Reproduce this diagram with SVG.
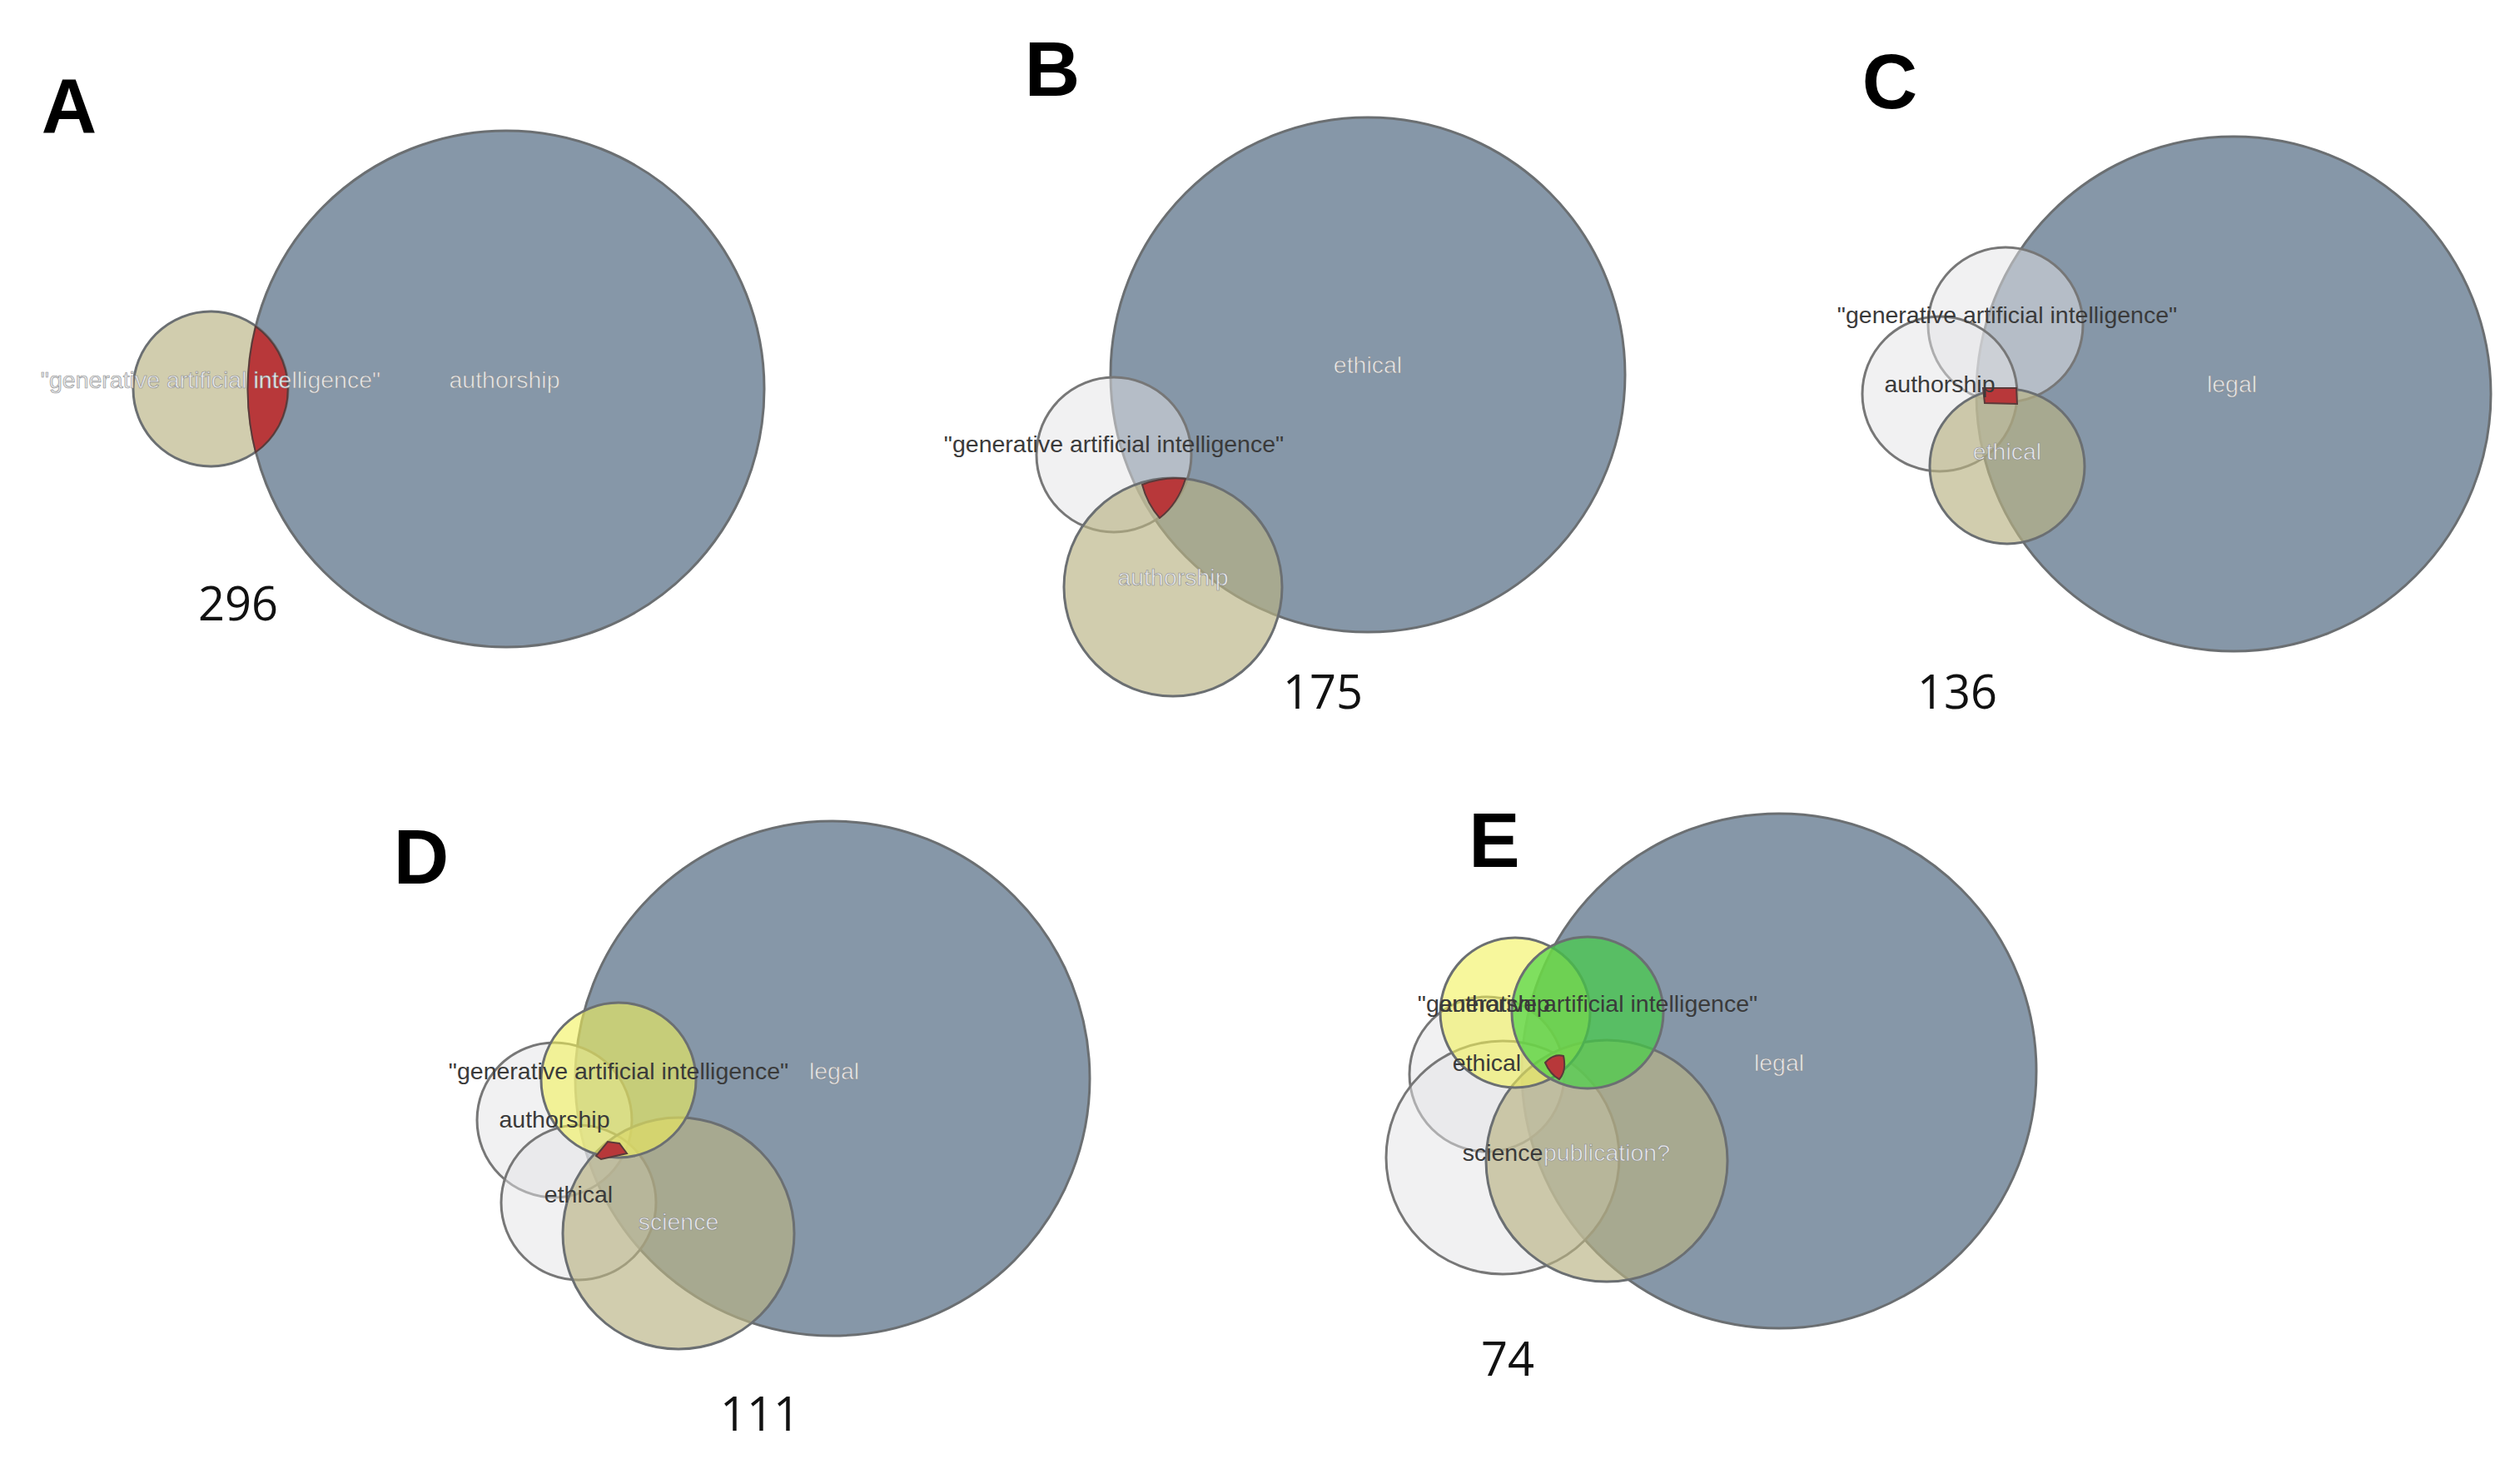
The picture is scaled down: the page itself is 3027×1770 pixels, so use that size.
<svg xmlns="http://www.w3.org/2000/svg" width="3027" height="1770" viewBox="0 0 3027 1770">
<style>
.big{fill:#8697a8;stroke:#6b6f72;stroke-width:3}
.bei{fill:#b9b283;fill-opacity:.65;stroke:#6b6f72;stroke-width:3}
.wht{fill:#e4e4e6;fill-opacity:.5;stroke:#777;stroke-width:3}
.yel{fill:#f2f25a;fill-opacity:.6;stroke:#6b6f72;stroke-width:3}
.grn{fill:#3fd23f;fill-opacity:.65;stroke:#6b6f72;stroke-width:3}
.red{fill:#b8383a;stroke:#5a3a3a;stroke-width:2}
.lt{font-family:"Liberation Sans",Arial,sans-serif;font-size:28.5px;fill:#e6e8ea;stroke:#8a8a8a;stroke-width:.6;text-anchor:middle;dominant-baseline:middle}
.dk{font-family:"Liberation Sans",Arial,sans-serif;font-size:28.5px;fill:#3a3a3a;text-anchor:middle;dominant-baseline:middle}
.pl{font-family:"Liberation Sans",Arial,sans-serif;font-size:92px;font-weight:bold;fill:#000;text-anchor:middle;dominant-baseline:middle}
.num{font-family:"Open Sans","Liberation Sans",sans-serif;font-size:56px;fill:#111;text-anchor:middle;dominant-baseline:middle}
</style>
<g id="panelA">
<circle class="big" cx="608" cy="467" r="310"/>
<circle class="bei" cx="253" cy="467" r="93"/>
<path class="red" d="M307,392 A93,93 0 0 1 307,543 A310,310 0 0 1 307,392 Z"/>
<text class="lt" x="253" y="458">"generative artificial intelligence"</text>
<text class="lt" x="606" y="458">authorship</text>
<text class="pl" x="83" y="135">A</text>
<text class="num" x="286" y="730">296</text>
</g>
<g id="panelB">
<circle class="big" cx="1643" cy="450" r="309"/>
<circle class="wht" cx="1338" cy="546" r="93"/>
<circle class="bei" cx="1409" cy="705" r="131"/>
<path class="red" d="M1372,582 Q1398,572 1424,575 Q1415,605 1393,622 Q1378,605 1372,582 Z"/>
<text class="lt" x="1643" y="440">ethical</text>
<text class="dk" x="1338" y="535">"generative artificial intelligence"</text>
<text class="lt" x="1409" y="695">authorship</text>
<text class="pl" x="1264" y="91">B</text>
<text class="num" x="1589" y="836">175</text>
</g>
<g id="panelC">
<circle class="big" cx="2683" cy="473" r="309"/>
<circle class="wht" cx="2409" cy="390" r="93"/>
<circle class="wht" cx="2330" cy="473" r="93"/>
<circle class="bei" cx="2411" cy="560" r="93"/>
<path class="red" d="M2382,466 L2422,466 L2423,485 L2384,484 Z"/>
<text class="dk" x="2411" y="380">"generative artificial intelligence"</text>
<text class="dk" x="2330" y="463">authorship</text>
<text class="lt" x="2411" y="544">ethical</text>
<text class="lt" x="2681" y="463">legal</text>
<text class="pl" x="2270" y="106">C</text>
<text class="num" x="2351" y="836">136</text>
</g>
<g id="panelD">
<circle class="big" cx="1000" cy="1295" r="309"/>
<circle class="wht" cx="666" cy="1345" r="93"/>
<circle class="wht" cx="695" cy="1444" r="93"/>
<circle class="bei" cx="815" cy="1481" r="139"/>
<circle class="yel" cx="743" cy="1297" r="93"/>
<path class="red" d="M716,1388 L730,1371 L744,1373 L753,1385 L722,1392 Z"/>
<text class="dk" x="743" y="1288">"generative artificial intelligence"</text>
<text class="lt" x="1002" y="1288">legal</text>
<text class="dk" x="666" y="1346">authorship</text>
<text class="dk" x="695" y="1436">ethical</text>
<text class="lt" x="815" y="1469">science</text>
<text class="pl" x="506" y="1037">D</text>
<text class="num" x="913" y="1703">111</text>
</g>
<g id="panelE">
<circle class="big" cx="2137" cy="1286" r="309"/>
<circle class="wht" cx="1786" cy="1290" r="93"/>
<circle class="wht" cx="1805" cy="1390" r="140"/>
<circle class="bei" cx="1930" cy="1394" r="145"/>
<circle class="yel" cx="1820" cy="1216" r="90"/>
<circle class="grn" cx="1907" cy="1216" r="91"/>
<path class="red" d="M1856,1276 Q1866,1265 1878,1268 Q1882,1286 1873,1296 Q1862,1290 1856,1276 Z"/>
<text class="dk" x="1907" y="1207">"generative artificial intelligence"</text>
<text class="dk" x="1795" y="1207">authorship</text>
<text class="dk" x="1786" y="1278">ethical</text>
<text class="dk" x="1805" y="1386">science</text>
<text class="lt" x="1930" y="1386">publication?</text>
<text class="lt" x="2137" y="1278">legal</text>
<text class="pl" x="1795" y="1017">E</text>
<text class="num" x="1811" y="1637">74</text>
</g>
<g id="connectors"/>
</svg>
